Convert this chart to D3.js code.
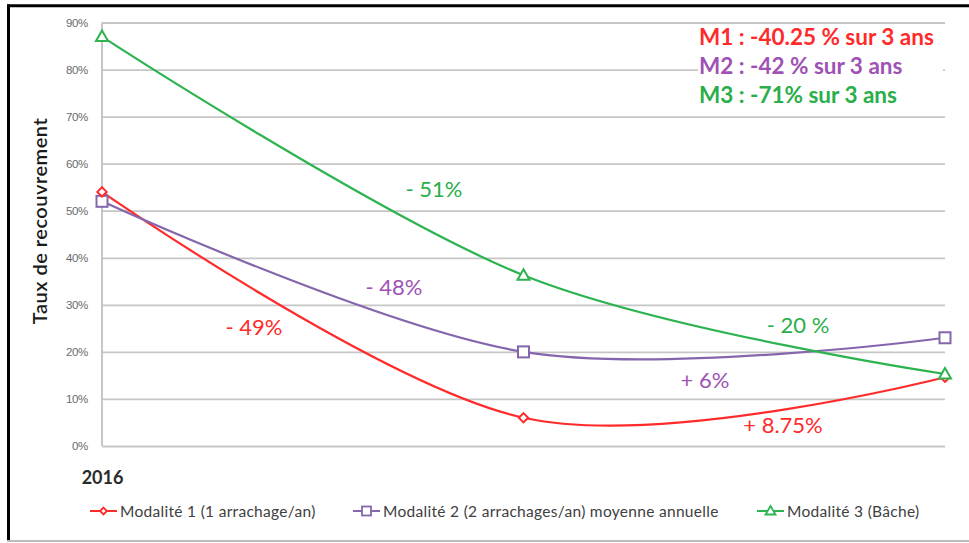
<!DOCTYPE html>
<html>
<head>
<meta charset="utf-8">
<script src="https://cdn.jsdelivr.net/npm/d3@7"></script>
<style>
html,body{margin:0;padding:0;background:#fff;}
svg{display:block;}
</style>
</head>
<body>
<svg id="chart" width="969" height="543"></svg>
<script>
// ---- Data ----
const categories = ["2016", "2017", "2018"];
const tickLabels = ["2016", "", ""];
const m1 = [0.54, 0.06, 0.146];
const m2 = [0.52, 0.20, 0.23];
const m3 = [0.87, 0.363, 0.153];
const yTicks = [0, 0.1, 0.2, 0.3, 0.4, 0.5, 0.6, 0.7, 0.8, 0.9];
const seriesNames = ["Modalité 1 (1 arrachage/an)", "Modalité 2 (2 arrachages/an) moyenne annuelle", "Modalité 3 (Bâche)"];
const summaryTexts = ["M1 : -40.25 % sur 3 ans", "M2 : -42 % sur 3 ans", "M3 : -71% sur 3 ans"];
const segmentLabels1 = ["- 49%", "+ 8.75%"];
const segmentLabels2 = ["- 48%", "+ 6%"];
const segmentLabels3 = ["- 51%", "- 20 %"];

const colors = {
  line: ["#ff2a2a", "#8566ac", "#2db350"],
  text: ["#ff2a2a", "#a052b4", "#2aae4a"]
};

const svg = d3.select("#chart");
const font = "Lato, 'Open Sans', sans-serif";

// frame
svg.append("line").attr("x1", 7).attr("x2", 969).attr("y1", 5.8).attr("y2", 5.8).attr("stroke", "#000").attr("stroke-width", 3);
svg.append("line").attr("x1", 8.5).attr("x2", 8.5).attr("y1", 4.5).attr("y2", 541).attr("stroke", "#000").attr("stroke-width", 3);
svg.append("line").attr("x1", 7).attr("x2", 969).attr("y1", 541).attr("y2", 541).attr("stroke", "#bdbdbd").attr("stroke-width", 2);

const x = d3.scalePoint().domain(categories).range([102, 945]);
const y = d3.scaleLinear().domain([0, 0.9]).range([446, 22.5]);

// gridlines
const gy = svg.append("g").attr("transform", "translate(102,0)")
  .call(d3.axisLeft(y).tickValues(yTicks).tickSize(-843).tickFormat(d3.format(".0%")).tickPadding(14));
gy.select(".domain").remove();
gy.selectAll(".tick line").attr("stroke", "#c6c6c6").attr("stroke-width", 1.8);
gy.selectAll(".tick text").attr("font-family", "'Liberation Sans', Arial, sans-serif").attr("font-size", 11.5).attr("fill", "#6a6a6a").attr("letter-spacing", -0.3);

// y axis line
svg.append("line").attr("x1", 102).attr("x2", 102).attr("y1", y(0.9)).attr("y2", y(0)).attr("stroke", "#c0c0c0").attr("stroke-width", 1.8);

// x axis labels
const gx = svg.append("g").attr("transform", "translate(0,446)")
  .call(d3.axisBottom(x).tickSize(0).tickFormat((d, i) => tickLabels[i]).tickPadding(25));
gx.select(".domain").remove();
gx.selectAll(".tick text").attr("font-family", font).attr("font-size", 18).attr("font-weight", "bold").attr("fill", "#2a2a2a");

// y title
svg.append("text").attr("transform", "translate(47,221) rotate(-90)").attr("text-anchor", "middle")
  .attr("font-family", font).attr("font-size", 20).attr("font-weight", 600).attr("fill", "#1a1a1a").attr("letter-spacing", 0.5)
  .text("Taux de recouvrement");

// summary box
svg.append("rect").attr("x", 698).attr("y", 24).attr("width", 245).attr("height", 90).attr("fill", "#fff");
summaryTexts.forEach((t, i) => {
  svg.append("text").attr("x", 699).attr("y", 45 + i * 29)
    .attr("font-family", font).attr("font-size", 22.5).attr("font-weight", "bold").attr("fill", colors.text[i]).text(t);
});

// lines
const allSeries = [m1, m2, m3];
const line = d3.line().x((d, i) => x(categories[i])).y(d => y(d)).curve(d3.curveCardinal.tension(0));
allSeries.forEach((s, k) => {
  svg.append("path").datum(s).attr("d", line).attr("fill", "none").attr("stroke", colors.line[k]).attr("stroke-width", 2.2);
});

// markers
function marker(g, k, cx, cy) {
  if (k === 0) {
    g.append("path").attr("d", d3.symbol(d3.symbolDiamond2 || d3.symbolDiamond, 55)())
      .attr("transform", `translate(${cx},${cy})`).attr("fill", "#fff").attr("stroke", colors.line[0]).attr("stroke-width", 2);
  } else if (k === 1) {
    g.append("rect").attr("x", cx - 5.5).attr("y", cy - 5.5).attr("width", 11).attr("height", 11)
      .attr("fill", "#fff").attr("stroke", colors.line[1]).attr("stroke-width", 2);
  } else {
    g.append("path").attr("d", `M${cx},${cy - 6}L${cx + 6},${cy + 4.5}L${cx - 6},${cy + 4.5}Z`)
      .attr("fill", "#fff").attr("stroke", colors.line[2]).attr("stroke-width", 2);
  }
}
const mg = svg.append("g");
[1, 0, 2].forEach(k => {
  allSeries[k].forEach((d, i) => marker(mg, k, x(categories[i]), y(d)));
});

// segment labels (positions given as centre points)
const labelPos = [
  [[254, 0.253], [783, 0.045]],
  [[394, 0.338], [705, 0.14]],
  [[434, 0.547], [798, 0.257]]
];
const segLabels = [segmentLabels1, segmentLabels2, segmentLabels3];
segLabels.forEach((arr, k) => {
  arr.forEach((t, j) => {
    const p = labelPos[k][j];
    svg.append("text").attr("x", p[0]).attr("y", y(p[1])).attr("dy", "0.36em").attr("text-anchor", "middle")
      .attr("font-family", font).attr("font-size", 22).attr("fill", colors.text[k]).text(t);
  });
});

// legend
const legendX = [90, 353, 757];
const lg = svg.append("g");
seriesNames.forEach((n, k) => {
  const lx = legendX[k];
  lg.append("line").attr("x1", lx).attr("x2", lx + 27).attr("y1", 511).attr("y2", 511).attr("stroke", colors.line[k]).attr("stroke-width", 2);
  if (k === 0) {
    lg.append("path").attr("d", d3.symbol(d3.symbolDiamond2 || d3.symbolDiamond, 30)()).attr("transform", `translate(${lx + 13.5},511)`)
      .attr("fill", "#fff").attr("stroke", colors.line[0]).attr("stroke-width", 1.8);
  } else if (k === 1) {
    lg.append("rect").attr("x", lx + 9).attr("y", 506.5).attr("width", 9).attr("height", 9)
      .attr("fill", "#fff").attr("stroke", colors.line[1]).attr("stroke-width", 1.8);
  } else {
    const cx = lx + 13.5;
    lg.append("path").attr("d", `M${cx},506L${cx + 5},514.5L${cx - 5},514.5Z`)
      .attr("fill", "#fff").attr("stroke", colors.line[2]).attr("stroke-width", 1.8);
  }
  lg.append("text").attr("x", lx + 30).attr("y", 516.5).attr("font-family", font).attr("font-size", 15.5).attr("letter-spacing", 0.3)
    .attr("fill", "#404040").text(n);
});
</script>
</body>
</html>
